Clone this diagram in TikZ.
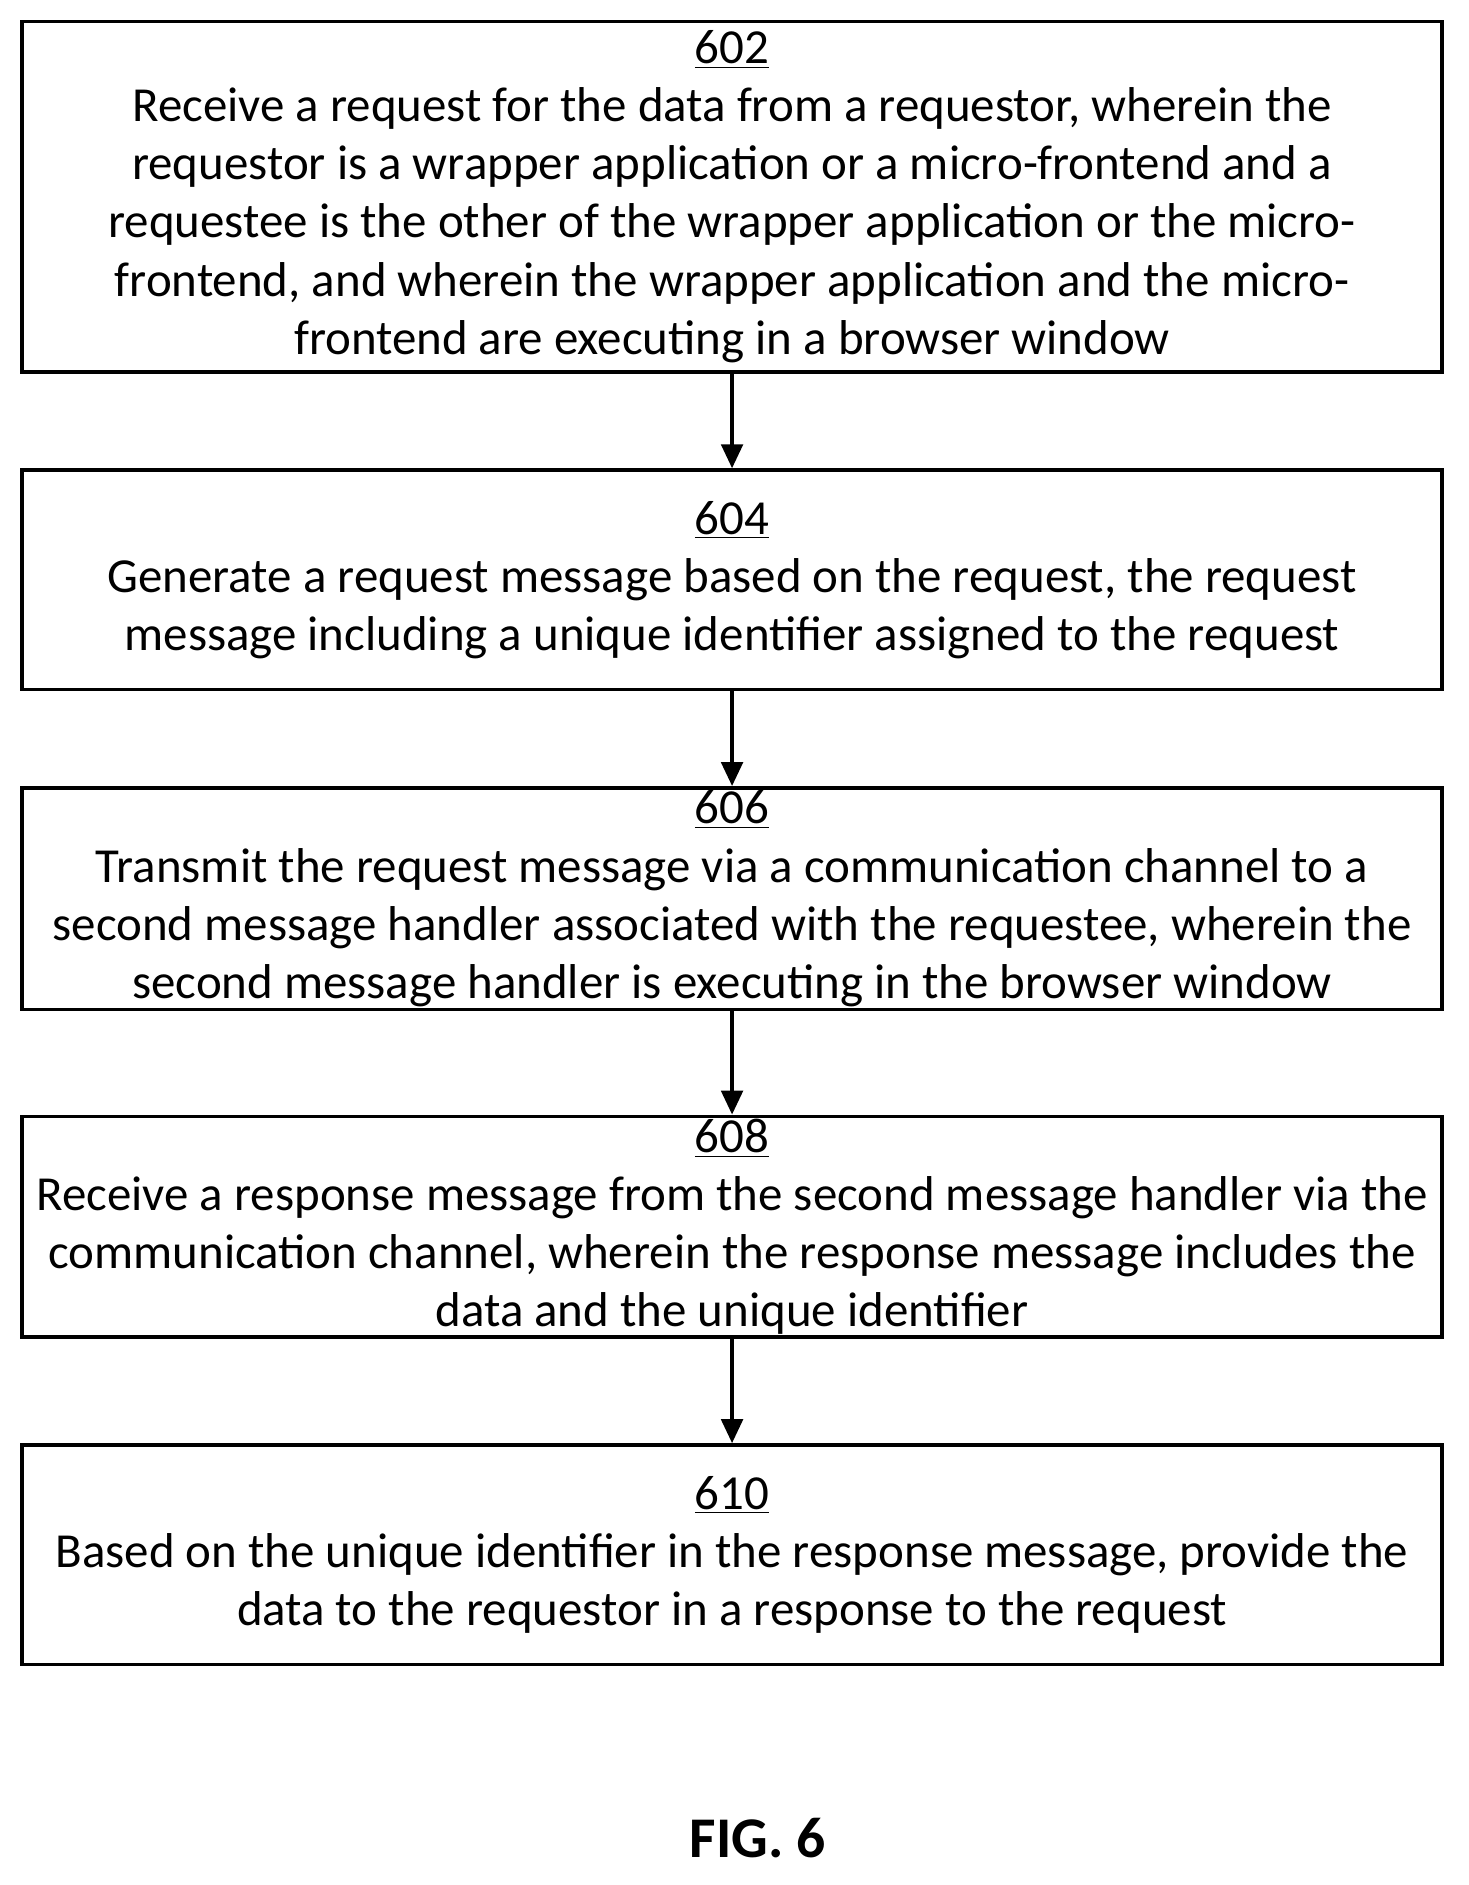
\documentclass[tikz,border=0pt]{standalone}
\usepackage{fontspec}
\setmainfont{Carlito}
\usetikzlibrary{arrows.meta}
\tikzset{
	stepbox/.style={draw, line width=1.5pt, minimum width=592pt, align=center,
			inner sep=0pt, font=\fontsize{20.4}{24.2}\selectfont},
	flow/.style={-{Triangle[length=10pt,width=9pt]}, line width=1.5pt}
}
\begin{document}
\begin{tikzpicture}[x=0.5pt,y=-0.5pt]
			\useasboundingbox (0,0) rectangle (1225,1572);

			% Steps
			\node[stepbox, minimum height=146pt] (s602) at (610.5,164) {\underline{602}\\Receive a request for the data from a requestor, wherein the\\requestor is a wrapper application or a micro-frontend and a\\requestee is the other of the wrapper application or the micro-\\frontend, and wherein the wrapper application and the micro-\\frontend are executing in a browser window};
			\node[stepbox, minimum height=91.5pt] (s604) at (610.5,483.5) {\underline{604}\\Generate a request message based on the request, the request\\message including a unique identifier assigned to the request};
			\node[stepbox, minimum height=92.5pt] (s606) at (610.5,749.5) {\underline{606}\\Transmit the request message via a communication channel to a\\second message handler associated with the requestee, wherein the\\second message handler is executing in the browser window};
			\node[stepbox, minimum height=92pt] (s608) at (610.5,1023) {\underline{608}\\Receive a response message from the second message handler via the\\communication channel, wherein the response message includes the\\data and the unique identifier};
			\node[stepbox, minimum height=91.5pt] (s610) at (610.5,1296.5) {\underline{610}\\Based on the unique identifier in the response message, provide the\\data to the requestor in a response to the request};

			% Connectors
			\draw[flow] (s602) -- (s604);
			\draw[flow] (s604) -- (s606);
			\draw[flow] (s606) -- (s608);
			\draw[flow] (s608) -- (s610);

			\node[font=\fontsize{24}{28}\selectfont\bfseries] (fig) at (632,1533) {FIG. 6};

		\end{tikzpicture}
\end{document}
